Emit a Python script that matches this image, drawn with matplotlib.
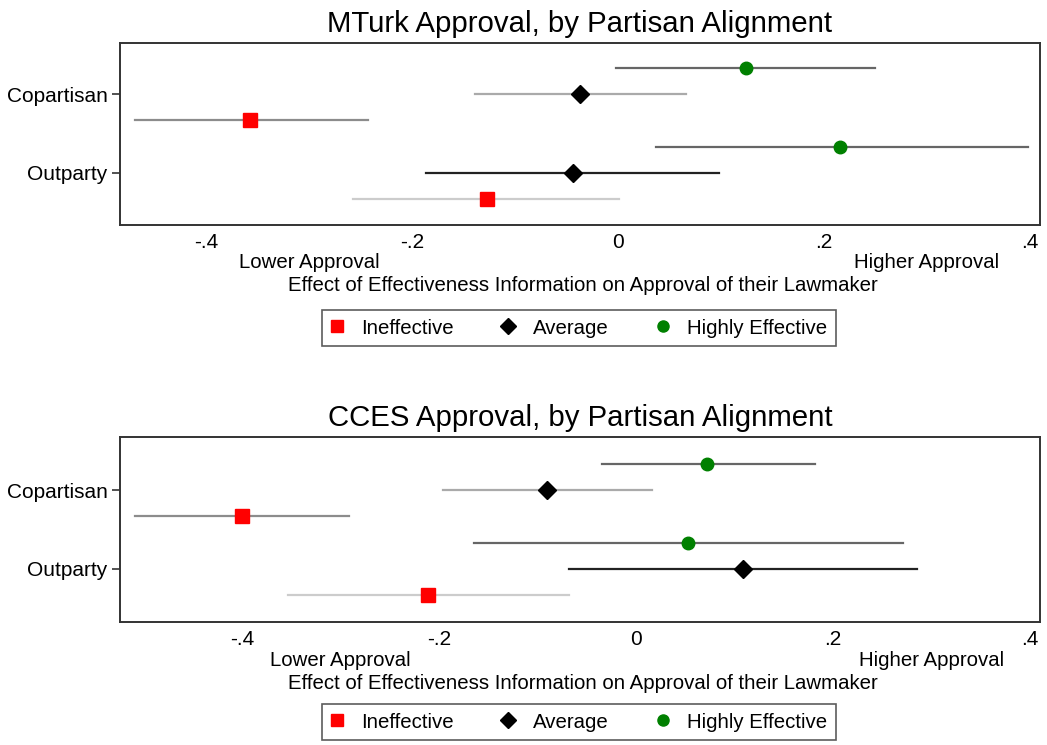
import matplotlib
matplotlib.use("Agg")
import matplotlib.pyplot as plt
from matplotlib.lines import Line2D

plt.rcParams["font.family"] = ["Liberation Sans", "DejaVu Sans"]

# rows from top to bottom: Copartisan (High, Avg, Ineff), Outparty (High, Avg, Ineff)
groups = ["Copartisan", "Outparty"]
conditions = ["Highly Effective", "Average", "Ineffective"]

mturk_est = [0.124, -0.037, -0.357, 0.216, -0.044, -0.127]
mturk_lo = [-0.002, -0.139, -0.469, 0.037, -0.186, -0.257]
mturk_hi = [0.250, 0.066, -0.243, 0.398, 0.098, 0.001]

cces_est = [0.072, -0.090, -0.400, 0.053, 0.108, -0.211]
cces_lo = [-0.035, -0.196, -0.509, -0.165, -0.068, -0.353]
cces_hi = [0.182, 0.016, -0.292, 0.271, 0.285, -0.068]

xticks = [-0.4, -0.2, 0, 0.2, 0.4]
xtick_labels = ["-.4", "-.2", "0", ".2", ".4"]

markers = {"Highly Effective": ("o", "#008000", 9),
           "Average": ("D", "black", 9),
           "Ineffective": ("s", "#ff0000", 10)}
ci_colors = ["#666666", "#aaaaaa", "#8c8c8c", "#666666", "#222222", "#cccccc"]


def draw_panel(fig, ax, est, lo, hi, title, xlim, ylim, leg_y):
    for i in range(len(est)):
        cond = conditions[i % 3]
        m, c, ms = markers[cond]
        ax.plot([lo[i], hi[i]], [i, i], color=ci_colors[i], lw=1.6, zorder=2)
        ax.plot(est[i], i, marker=m, color=c, ms=ms, ls="none", zorder=3)
    ax.set_xlim(*xlim)
    ax.set_ylim(*ylim)
    ax.set_xticks(xticks)
    ax.set_xticklabels(xtick_labels)
    ax.set_yticks([1, 4])
    ax.set_yticklabels(groups)
    ax.tick_params(axis="x", length=0, labelsize=15, pad=6)
    ax.tick_params(axis="y", length=6, width=1.2, color="#333333", labelsize=15, pad=3)
    for s in ax.spines.values():
        s.set_color("#333333")
        s.set_linewidth(1.4)
    ax.set_title(title, fontsize=21.2, pad=8)
    tr = ax.get_xaxis_transform()
    ax.annotate("Lower Approval", xy=(-0.3, 0), xycoords=tr, xytext=(0, -38),
                textcoords="offset pixels", ha="center", va="center", fontsize=14.7)
    ax.annotate("Higher Approval", xy=(0.3, 0), xycoords=tr, xytext=(0, -38),
                textcoords="offset pixels", ha="center", va="center", fontsize=14.7)
    ax.annotate("Effect of Effectiveness Information on Approval of their Lawmaker",
                xy=(0.503, 0), xycoords="axes fraction", xytext=(0, -61),
                textcoords="offset pixels", ha="center", va="center", fontsize=14.7)
    handles = [Line2D([], [], marker=markers[c][0], color=markers[c][1],
                      ms=markers[c][2] - 1, ls="none") for c in ["Ineffective", "Average", "Highly Effective"]]
    leg = ax.legend(handles, ["Ineffective", "Average", "Highly Effective"], ncol=3,
                    loc="center", bbox_to_anchor=(579 / 1047, leg_y),
                    bbox_transform=fig.transFigure, frameon=True,
                    fancybox=False, fontsize=14.7, handletextpad=0.88, columnspacing=2.4,
                    borderpad=0.4, handlelength=0.6)
    leg.get_frame().set_edgecolor("#333333")
    leg.get_frame().set_linewidth(1.2)


fig = plt.figure(figsize=(10.47, 7.45), dpi=100)
ax1 = fig.add_axes([0.1146, 0.698, 0.8787, 0.2443])
ax2 = fig.add_axes([0.1146, 0.165, 0.8787, 0.2484])

draw_panel(fig, ax1, mturk_est, mturk_lo, mturk_hi, "MTurk Approval, by Partisan Alignment",
           (-0.4835, 0.41), (5.99, -0.95), 1 - 328 / 745)
draw_panel(fig, ax2, cces_est, cces_lo, cces_hi, "CCES Approval, by Partisan Alignment",
           (-0.524, 0.41), (6.03, -1.03), 1 - 722 / 745)

fig.savefig("out.png", dpi=100)
